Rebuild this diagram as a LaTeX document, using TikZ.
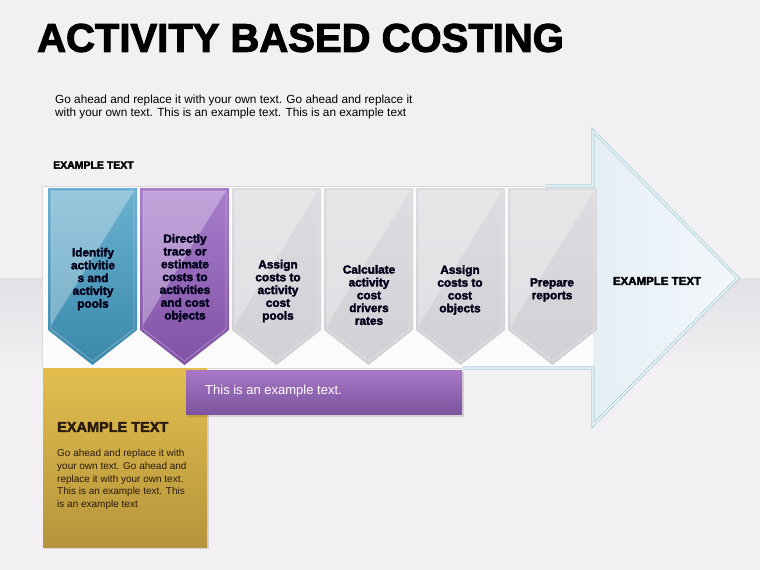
\documentclass[tikz,border=0pt]{standalone}
\usepackage{fontspec}
\setmainfont{Liberation Sans}
\newfontfamily\heavyfont{Liberation Sans}[BoldFeatures={FakeBold=2.6}]
\usetikzlibrary{positioning}

\definecolor{abcbg}{HTML}{F2F0F3}
\definecolor{abcfloor}{HTML}{E2E1E5}
\definecolor{blueL}{HTML}{6BB2D0}
\definecolor{blueD}{HTML}{3A88AB}
\definecolor{purL}{HTML}{A77DCB}
\definecolor{purD}{HTML}{8152A6}
\definecolor{greyL}{HTML}{DDDCE0}
\definecolor{greyD}{HTML}{D1D0D5}
\definecolor{goldL}{HTML}{E3BE4E}
\definecolor{goldD}{HTML}{B5953C}
\definecolor{barL}{HTML}{A878C6}
\definecolor{barD}{HTML}{7C549E}
\definecolor{headfill}{HTML}{E6EFF6}
\definecolor{headline}{HTML}{AFD2DB}
\definecolor{brownink}{HTML}{2A1A0E}

\begin{document}
\begin{tikzpicture}[
    x=1pt, y=-1pt,
    title/.style={font=\heavyfont\bfseries\fontsize{40}{44}\selectfont, inner sep=0, anchor=west},
    plain/.style={font=\fontsize{11.8}{13}\selectfont, inner sep=0, anchor=west, align=left},
    label/.style={font=\heavyfont\bfseries\fontsize{11.5}{13}\selectfont, inner sep=0},
    steptext/.style={font=\heavyfont\bfseries\fontsize{11.8}{12.8}\selectfont, align=center, inner sep=0, text=black!90!blue},
    notetext/.style={font=\fontsize{10}{12.7}\selectfont, inner sep=0, anchor=west, align=left, text=brownink},
    bartext/.style={font=\fontsize{13}{15}\selectfont, inner sep=0, anchor=west, text=white}
]
\useasboundingbox (0,0) rectangle (760,570);

% Background
\fill[abcbg] (0,0) rectangle (760,570);
\shade[top color=abcfloor, bottom color=abcbg] (0,278) rectangle (760,372);

% Big arrow
\fill[white!75!abcbg] (42,186) rectangle (593,368);
\shade[left color=headfill, right color=headfill!50!white] (593,131) -- (738,278) -- (593,425) -- cycle;
\draw[black!15, line width=0.5pt] (593,186) -- (42,186) -- (42,368) -- (593,368);
\draw[headline, double=headfill!40!white, double distance=1.2pt, line width=1pt, line join=miter]
  (545,186) -- (593,186) -- (593,131) -- (738,278) -- (593,425) -- (593,368) -- (462,368);

% Chevrons
\foreach \i/\lc/\dc in {0/blueL/blueD, 1/purL/purD, 2/greyL/greyD, 3/greyL/greyD, 4/greyL/greyD, 5/greyL/greyD} {
  \pgfmathsetmacro\xl{48+92*\i}
  \shade[top color=\lc, bottom color=\dc] (\xl,188) -- ++(89,0) -- ++(0,142) -- ++(-44.5,35) -- ++(-44.5,-35) -- cycle;
  \fill[white, opacity=0.3] (\xl+3,191) -- ++(83,0) -- (\xl+3,325) -- cycle;
  \draw[white, opacity=0.3, line width=0.8pt] (\xl+3,191) -- ++(83,0) -- ++(0,138) -- ++(-41.5,32) -- ++(-41.5,-32) -- cycle;
}

% Step texts
\node[steptext] (step1) at (93,279) {Identify\\activitie\\s and\\activity\\pools};
\node[steptext] (step2) at (185,278) {Directly\\trace or\\estimate\\costs to\\activities\\and cost\\objects};
\node[steptext] (step3) at (278,291) {Assign\\costs to\\activity\\cost\\pools};
\node[steptext] (step4) at (369,295) {Calculate\\activity\\cost\\drivers\\rates};
\node[steptext] (step5) at (460,290) {Assign\\costs to\\cost\\objects};
\node[steptext] (step6) at (552,290) {Prepare\\reports};
\node[label] (headtext) at (657,281) {EXAMPLE TEXT};

% Gold note
\fill[black, opacity=0.12] (45,370) rectangle (209,549);
\shade[top color=goldL, bottom color=goldD] (43,368) rectangle (207,547);
\node[label, anchor=west, text=brownink, font=\heavyfont\bfseries\fontsize{14.5}{16}\selectfont] (notehead) at (57,427) {EXAMPLE TEXT};
\node[notetext] (notebody) at (57,479.5) {Go ahead and replace it with\\your own text. Go ahead and\\replace it with your own text.\\This is an example text. This\\is an example text};

% Purple bar
\fill[black, opacity=0.12] (188,372) rectangle (464,417);
\shade[top color=barL, bottom color=barD] (186,370) rectangle (462,414);
\node[bartext] (bartext) at (205,391) {This is an example text.};

% Header
\node[title] (title) at (37,38) {ACTIVITY BASED COSTING};
\node[plain] (intro) at (55,106.5) {Go ahead and replace it with your own text. Go ahead and replace it\\with your own text. This is an example text. This is an example text};
\node[label, anchor=west, font=\heavyfont\bfseries\fontsize{10.5}{12}\selectfont] (section) at (53,165) {EXAMPLE TEXT};

\end{tikzpicture}
\end{document}
